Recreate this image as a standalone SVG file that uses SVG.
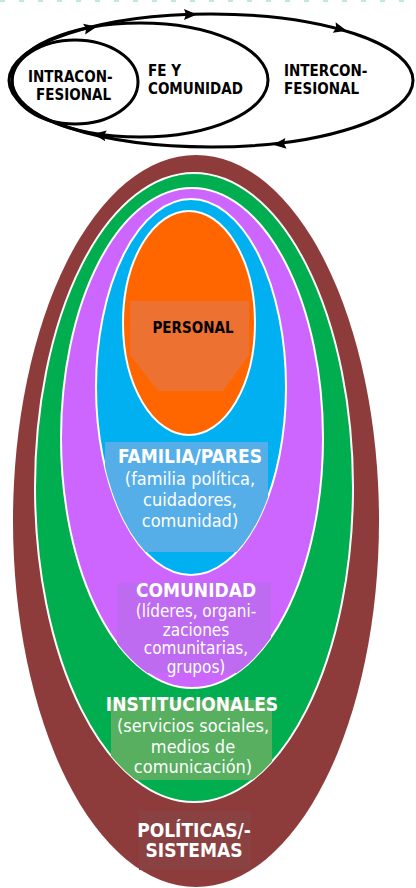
<svg xmlns="http://www.w3.org/2000/svg" width="416" height="888" viewBox="0 0 416 888">
<defs>
<style>
.ring{stroke:#ffffff;stroke-width:2}
.loop{fill:none;stroke:#000;stroke-width:3}
.ah{fill:#000}
.lbl{font-family:"DejaVu Sans Condensed","DejaVu Sans",sans-serif;font-weight:bold;font-size:15px;fill:#000}
.t{font-family:"DejaVu Sans Condensed","DejaVu Sans",sans-serif;fill:#fff;text-anchor:middle}
.h{font-weight:bold;font-size:19px}
.b{font-size:18px}
.s{font-size:17px}
</style>
<polygon id="arr" points="7,0 -6,-5.5 -4,0 -6,5.5"/>
<clipPath id="cFam"><ellipse cx="191" cy="387" rx="95" ry="188"/></clipPath>
<clipPath id="cCom"><ellipse cx="192" cy="438" rx="131" ry="250"/></clipPath>
<clipPath id="cIns"><ellipse cx="194" cy="487.5" rx="159" ry="314.5"/></clipPath>
</defs>
<rect width="416" height="888" fill="#fff"/>
<line x1="0" y1="1" x2="416" y2="1" stroke="#bfe8e2" stroke-width="2" stroke-dasharray="5 14"/>

<g id="connectors">
<ellipse class="loop" cx="211" cy="80.5" rx="202" ry="66.5"/>
<ellipse class="loop" cx="140" cy="80" rx="128" ry="57"/>
<ellipse class="loop" cx="75" cy="82" rx="63" ry="42" stroke-width="3.5"/>
<use href="#arr" class="ah" transform="translate(90,28) rotate(-11)"/>
<use href="#arr" class="ah" transform="translate(190,14.5)"/>
<use href="#arr" class="ah" transform="translate(340,29) rotate(15)"/>
<use href="#arr" class="ah" transform="translate(100,135) rotate(188)"/>
<use href="#arr" class="ah" transform="translate(280,144) rotate(174)"/>
</g>

<g id="intraconfesional"><text class="lbl" x="28" y="82">INTRACON-</text><text class="lbl" x="36" y="100">FESIONAL</text></g>
<g id="fe-comunidad"><text class="lbl" x="148" y="76">FE Y</text><text class="lbl" x="148" y="94">COMUNIDAD</text></g>
<g id="interconfesional"><text class="lbl" x="284" y="76">INTERCON-</text><text class="lbl" x="284" y="94">FESIONAL</text></g>

<g id="politicas">
<ellipse cx="196" cy="521" rx="183" ry="366" fill="#8E3B3C"/>
</g>
<g id="institucionales">
<ellipse class="ring" cx="194" cy="487.5" rx="159" ry="314.5" fill="#00AE4F"/>
</g>
<g id="comunidad">
<ellipse class="ring" cx="192" cy="438" rx="131" ry="250" fill="#CC66FF"/>
</g>
<g id="familia">
<ellipse class="ring" cx="191" cy="387" rx="95" ry="188" fill="#00B0F0"/>
</g>
<g id="personal">
<ellipse class="ring" cx="189" cy="323" rx="66" ry="112" fill="#FF6600"/>
<polygon points="130,301 249,301 249,355 223,391 158,391 130,355" fill="#ED7131"/>
<text x="193" y="333" text-anchor="middle" style="font-family:'DejaVu Sans Condensed','DejaVu Sans',sans-serif;font-weight:bold;font-size:15px;fill:#000">PERSONAL</text>
</g>

<g id="familia-label">
<polygon clip-path="url(#cFam)" points="105,442 268,442 268,530 250,552 122,552 105,530" fill="#56AEE9"/>
<text class="t h" x="190" y="463">FAMILIA/PARES</text>
<text class="t b" x="190" y="485">(familia política,</text>
<text class="t b" x="190" y="506">cuidadores,</text>
<text class="t b" x="190" y="527">comunidad)</text>
</g>

<g id="comunidad-label">
<rect clip-path="url(#cCom)" x="117" y="583" width="154" height="90" fill="#BE6BF2"/>
<text class="t h" x="196" y="597">COMUNIDAD</text>
<text class="t s" x="196" y="617">(líderes, organi-</text>
<text class="t s" x="196" y="635.5">zaciones</text>
<text class="t s" x="196" y="654">comunitarias,</text>
<text class="t s" x="196" y="672.5">grupos)</text>
</g>

<g id="institucionales-label">
<polygon clip-path="url(#cIns)" points="111,700 272,700 272,768 262,780 111,780" fill="#57AF5F"/>
<text class="t h" x="192" y="711">INSTITUCIONALES</text>
<text class="t b" x="193" y="732">(servicios sociales,</text>
<text class="t b" x="193" y="753">medios de</text>
<text class="t b" x="193" y="773">comunicación)</text>
</g>

<g id="politicas-label">
<rect x="139" y="811" width="112" height="59" fill="#8A4141"/>
<text class="t h" x="194" y="837">POLÍTICAS/-</text>
<text class="t h" x="194" y="857">SISTEMAS</text>
</g>
</svg>
